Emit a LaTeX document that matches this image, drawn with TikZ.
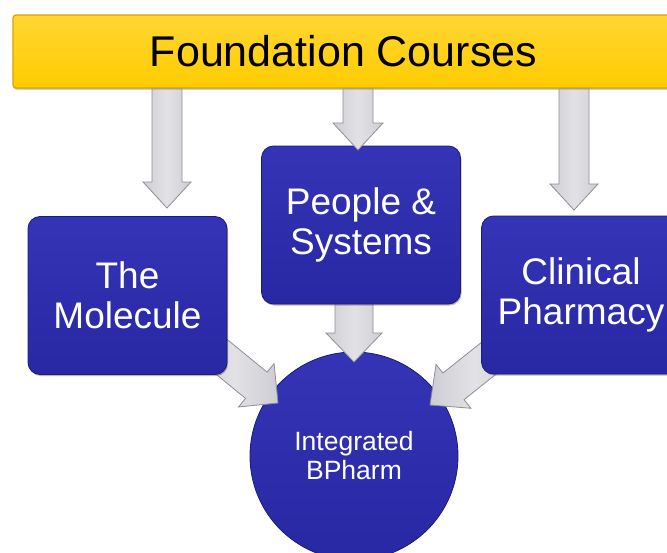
\documentclass[tikz,border=0pt]{standalone}
\usepackage{fontspec}
\setmainfont{Liberation Sans}
\usetikzlibrary{calc,shadows}
\definecolor{bannerfill}{HTML}{FFCC00}
\definecolor{bannertop}{HTML}{FFD633}
\definecolor{banneredge}{HTML}{D9A400}
\definecolor{boxblue}{HTML}{2828A4}
\definecolor{boxtop}{HTML}{3434B6}
\definecolor{boxedge}{HTML}{1C1C78}
\definecolor{arrowfill}{HTML}{CDCDD3}
\definecolor{arrowlight}{HTML}{E2E2E6}
\definecolor{arrowedge}{HTML}{8E8E96}
\tikzset{
  bannerbox/.style={rectangle, draw=banneredge, line width=1.2pt, top color=bannertop, bottom color=bannerfill,
    rounded corners=3pt, minimum width=661pt, minimum height=73pt, inner sep=0pt,
    font=\fontsize{43}{50}\selectfont, text=black,
    drop shadow={shadow xshift=0.5pt, shadow yshift=-1.5pt, opacity=0.45, fill=black!60}},
  bluebox/.style={rectangle, rounded corners=12pt, draw=boxedge, line width=0.8pt,
    top color=boxtop, bottom color=boxblue, text=white, align=center,
    minimum width=199pt, minimum height=158pt, inner sep=0pt,
    font=\fontsize{37}{40}\selectfont,
    drop shadow={shadow xshift=1pt, shadow yshift=-1.5pt, opacity=0.4, fill=black!70}},
  hub/.style={circle, draw=boxedge, line width=0.8pt, top color=boxtop, bottom color=boxblue,
    text=white, align=center, minimum size=208pt, inner sep=0pt,
    font=\fontsize{26.5}{29}\selectfont},
  blockarrow/.style={left color=arrowfill, right color=arrowfill, middle color=arrowlight,
    draw=arrowedge, line width=0.8pt, line join=miter}
}
% #1 start, #2 tip, #3 shaft half width, #4 head half width, #5 head length
\newcommand\blockarr[5]{%
  \coordinate (hb) at ($(#2)!#5!(#1)$);
  \path[blockarrow] ($(#1)!#3!90:(#2)$) -- ($(hb)!#3!-90:(#1)$) -- ($(hb)!#4!-90:(#1)$)
    -- (#2) -- ($(hb)!#4!90:(#1)$) -- ($(hb)!#3!90:(#1)$) -- ($(#1)!#3!-90:(#2)$) -- cycle;
}
\begin{document}
\begin{tikzpicture}[x=1pt,y=-1pt]
  \useasboundingbox (0,0) rectangle (667,552);
  \clip (0,0) rectangle (667,552);
  \fill[white] (0,0) rectangle (667,552);

  % banner
  \node[bannerbox] (banner) at (343.5,51.5) {Foundation Courses};

  % hub
  \node[hub] (hub) at (354,456) {Integrated\\BPharm};

  % arrows into the hub
  \coordinate (l1s) at (201,340);  \coordinate (l1e) at (278,403);
  \coordinate (m1s) at (354,290);  \coordinate (m1e) at (354,362);
  \coordinate (r1s) at (508,343);  \coordinate (r1e) at (430,405);
  \blockarr{l1s}{l1e}{17pt}{28pt}{28pt}
  \blockarr{m1s}{m1e}{19pt}{28pt}{29pt}
  \blockarr{r1s}{r1e}{17pt}{28pt}{30pt}

  % boxes
  \node[bluebox] (mol)  at (127.5,295.5) {The\\Molecule};
  \node[bluebox] (ppl)  at (361,225)     {People \&\\Systems};
  \node[bluebox] (clin) at (581,295)     {Clinical\\Pharmacy};

  % arrows from the banner
  \coordinate (t1s) at (167,89);  \coordinate (t1e) at (167,208);
  \coordinate (t2s) at (358,89);  \coordinate (t2e) at (358,150);
  \coordinate (t3s) at (574,89);  \coordinate (t3e) at (574,210);
  \blockarr{t1s}{t1e}{15pt}{24pt}{26pt}
  \blockarr{t2s}{t2e}{15pt}{25pt}{27pt}
  \blockarr{t3s}{t3e}{15pt}{24pt}{26pt}
\end{tikzpicture}
\end{document}
